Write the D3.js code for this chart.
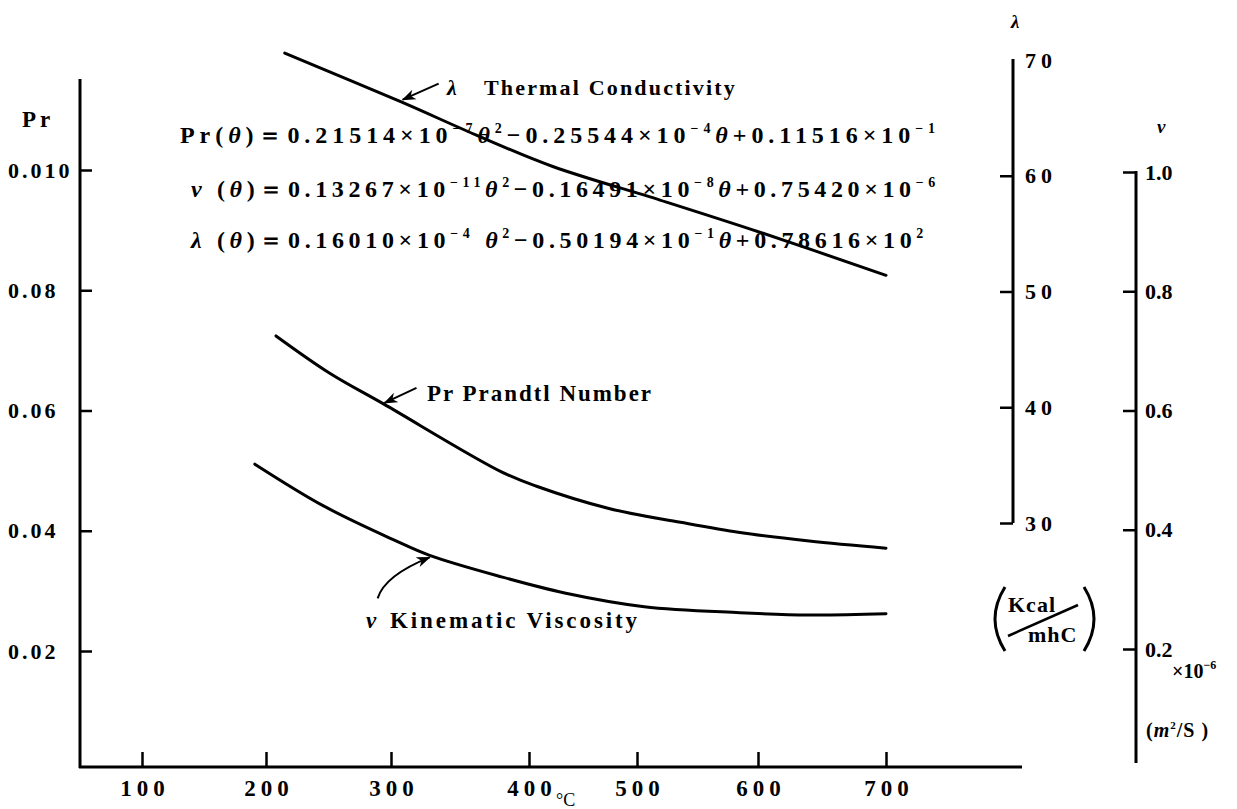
<!DOCTYPE html>
<html><head><meta charset="utf-8">
<script src="https://cdn.jsdelivr.net/npm/d3@7"></script>
<style>
html,body{margin:0;padding:0;background:#fff;}
svg{display:block;}
</style></head><body>
<svg id="chart" width="1237" height="809"></svg>
<script>
// ---------- data ----------
const tempTicks = [100, 200, 300, 400, 500, 600, 700];
const tempTickLabels = ["100", "200", "300", "400", "500", "600", "700"];
const prTicks = [0.10, 0.08, 0.06, 0.04, 0.02];
const prTickLabels = ["0.010", "0.08", "0.06", "0.04", "0.02"];
const lambdaTicks = [70, 60, 50, 40, 30];
const lambdaTickLabels = ["70", "60", "50", "40", "30"];
const nuTicks = [1.0, 0.8, 0.6, 0.4, 0.2];
const nuTickLabels = ["1.0", "0.8", "0.6", "0.4", "0.2"];

// Pr  Prandtl number (left axis)
const prTemp   = [208, 251, 294, 380, 407, 474, 536, 585, 640, 700];
const prValues = [0.0724, 0.0662, 0.0611, 0.0498, 0.0474, 0.0437, 0.0414, 0.0397, 0.0383, 0.0371];
// nu  kinematic viscosity x10^-6 (right axis)
const nuTemp   = [191, 246, 302, 328, 380, 433, 506, 585, 640, 700];
const nuValues = [0.510, 0.440, 0.383, 0.357, 0.321, 0.294, 0.271, 0.261, 0.257, 0.259];
// lambda thermal conductivity (right axis)
const lamTemp   = [215, 307, 364, 422, 519, 602, 700];
const lamValues = [70.6, 66.4, 63.4, 60.8, 57.9, 55.1, 51.4];

// ---------- layout ----------
const FONT = '"Liberation Serif","Times New Roman",serif';
const X_TICK_PIX = [142, 266, 391, 529, 637, 758, 886]; // hand drawn, uneven spacing
const svg = d3.select("#chart");

const x = d3.scaleLinear().domain(tempTicks).range(X_TICK_PIX);
const yPr = d3.scaleLinear().domain([0.02, 0.10]).range([651, 170]);
const yLam = d3.scaleLinear().domain([30, 70]).range([523, 60]);
const yNu = d3.scaleLinear().domain([0.2, 1.0]).range([649, 172]);

function styleText(sel, size, ls) {
  sel.attr("font-family", FONT).attr("font-size", size).attr("font-weight", "bold")
     .attr("fill", "#000").attr("letter-spacing", ls || 0);
}
function fitWidth(sel, target) {
  sel.attr("letter-spacing", 0);
  const w = sel.node().getComputedTextLength();
  const n = sel.text().length;
  sel.attr("letter-spacing", (target - w) / n);
}

// bottom axis
const gx = svg.append("g").attr("transform", "translate(0,767)")
  .call(d3.axisBottom(x).tickValues(tempTicks).tickSize(-15).tickPadding(13)
        .tickFormat((d, i) => tempTickLabels[i]));
gx.select(".domain").remove();
gx.selectAll(".tick line").attr("stroke", "#000").attr("stroke-width", 2.5);
gx.selectAll(".tick text").call(styleText, 23, 5).attr("dx", 2.5);
svg.append("line").attr("x1", 79).attr("x2", 1022).attr("y1", 767).attr("y2", 767)
  .attr("stroke", "#000").attr("stroke-width", 3);
svg.append("text").attr("x", x(400) + 27).attr("y", 806).text("°C").call(styleText, 18, 0)
  .attr("font-weight", "normal");

// left Pr axis
const gy = svg.append("g").attr("transform", "translate(80,0)")
  .call(d3.axisLeft(yPr).tickValues(prTicks).tickSize(-12)
        .tickFormat((d, i) => prTickLabels[i]));
gy.select(".domain").remove();
gy.selectAll(".tick line").attr("stroke", "#000").attr("stroke-width", 2.5);
gy.selectAll(".tick text").call(styleText, 22, 3).attr("x", -72).attr("text-anchor", "start");
svg.append("line").attr("x1", 80).attr("x2", 80).attr("y1", 79).attr("y2", 768)
  .attr("stroke", "#000").attr("stroke-width", 3);
svg.append("text").attr("x", 22).attr("y", 127).text("Pr").call(styleText, 23, 4);

// lambda axis
const gl = svg.append("g").attr("transform", "translate(1013,0)")
  .call(d3.axisRight(yLam).tickValues(lambdaTicks).tickSize(-13).tickPadding(12)
        .tickFormat((d, i) => lambdaTickLabels[i]));
gl.select(".domain").remove();
gl.selectAll(".tick line").attr("stroke", "#000").attr("stroke-width", 2.5);
gl.selectAll(".tick").filter(d => d === 70).select("line").remove();
gl.selectAll(".tick text").call(styleText, 22, 5);
svg.append("line").attr("x1", 1013).attr("x2", 1013).attr("y1", yLam(70) - 1).attr("y2", yLam(30))
  .attr("stroke", "#000").attr("stroke-width", 3);
svg.append("text").attr("x", 1011).attr("y", 28).text("λ").call(styleText, 19, 0)
  .attr("font-style", "italic");

// nu axis
const gn = svg.append("g").attr("transform", "translate(1136,0)")
  .call(d3.axisRight(yNu).tickValues(nuTicks).tickSize(-13).tickPadding(9)
        .tickFormat((d, i) => nuTickLabels[i]));
gn.select(".domain").remove();
gn.selectAll(".tick line").attr("stroke", "#000").attr("stroke-width", 2.5);
gn.selectAll(".tick text").call(styleText, 22, 0);
svg.append("line").attr("x1", 1136).attr("x2", 1136).attr("y1", yNu(1.0) - 1).attr("y2", 763)
  .attr("stroke", "#000").attr("stroke-width", 3);
svg.append("text").attr("x", 1157).attr("y", 133).text("ν").call(styleText, 19, 0)
  .attr("font-style", "italic");
const xm = svg.append("text").attr("x", 1172).attr("y", 678).call(styleText, 20, 0);
xm.append("tspan").text("×10");
xm.append("tspan").text("−6").attr("font-size", 12).attr("dy", -9);
const ms = svg.append("text").attr("x", 1146).attr("y", 737).call(styleText, 20, 1);
ms.append("tspan").text("(");
ms.append("tspan").text("m").attr("font-style", "italic");
ms.append("tspan").text("2").attr("font-size", 11).attr("dy", -8);
ms.append("tspan").text("/S )").attr("dy", 8);

// (Kcal / mhC) unit
svg.append("path").attr("d", "M1005,587 Q985,619 1005,651").attr("fill", "none")
  .attr("stroke", "#000").attr("stroke-width", 3);
svg.append("path").attr("d", "M1084,587 Q1104,619 1084,651").attr("fill", "none")
  .attr("stroke", "#000").attr("stroke-width", 3);
svg.append("text").attr("x", 1008).attr("y", 612).text("Kcal").call(styleText, 22, 1);
svg.append("line").attr("x1", 1008).attr("y1", 636).attr("x2", 1078).attr("y2", 605)
  .attr("stroke", "#000").attr("stroke-width", 2.5);
svg.append("text").attr("x", 1028).attr("y", 642).text("mhC").call(styleText, 22, 1);

// ---------- curves ----------
const line = d3.line().curve(d3.curveCatmullRom.alpha(0.5));
function drawCurve(temps, vals, yScale) {
  svg.append("path")
    .attr("d", line(temps.map((t, i) => [x(t), yScale(vals[i])])))
    .attr("fill", "none").attr("stroke", "#000").attr("stroke-width", 3)
    .attr("stroke-linecap", "round");
}
drawCurve(lamTemp, lamValues, yLam);
drawCurve(prTemp, prValues, yPr);
drawCurve(nuTemp, nuValues, yNu);

// ---------- arrows & labels ----------
const defs = svg.append("defs");
defs.append("marker").attr("id", "arr").attr("viewBox", "0 0 12 10")
  .attr("refX", 11).attr("refY", 5).attr("markerWidth", 14).attr("markerHeight", 12)
  .attr("markerUnits", "userSpaceOnUse").attr("orient", "auto")
  .append("path").attr("d", "M0,0.5 L12,5 L0,9.5 L3.5,5 Z").attr("fill", "#000");

function arrow(px, py, dx, dy, cx, cy) {
  const d = (cx === undefined)
    ? `M${px + dx},${py + dy} L${px},${py}`
    : `M${px + dx},${py + dy} Q${px + cx},${py + cy} ${px},${py}`;
  svg.append("path").attr("d", d).attr("fill", "none").attr("stroke", "#000")
    .attr("stroke-width", 2).attr("marker-end", "url(#arr)");
}
arrow(x(307) + 2, yLam(66.4) - 2, 36, -16);
arrow(x(294) + 1, yPr(0.0611) - 1, 32, -15);
arrow(x(328), yNu(0.357) + 2, -52, 41, -45, 18);

const tl = svg.append("text").attr("x", 447).attr("y", 95).call(styleText, 22, 0);
tl.append("tspan").text("λ").attr("font-style", "italic");
tl.append("tspan").text("Thermal Conductivity").attr("x", 484);
fitWidth(tl.select("tspan:nth-child(2)"), 253);

const tp = svg.append("text").attr("x", 427).attr("y", 401).text("Pr Prandtl Number").call(styleText, 23, 0);
fitWidth(tp, 226);

const tn = svg.append("text").attr("x", 366).attr("y", 628).call(styleText, 23, 0);
tn.append("tspan").text("ν").attr("font-style", "italic");
tn.append("tspan").text("Kinematic Viscosity").attr("x", 390);
fitWidth(tn.select("tspan:nth-child(2)"), 250);

// ---------- equations ----------
const eqs = [
  {x: 180, y: 143, w: 760, parts: [["Pr(", 0], ["θ", "i"], [")＝0.21514×10", 0], ["−7", "s"], ["θ", "i"], ["2", "s"],
     ["−0.25544×10", 0], ["−4", "s"], ["θ", "i"], ["+0.11516×10", 0], ["−1", "s"]]},
  {x: 191, y: 197, w: 749, parts: [["ν", "i"], [" (", 0], ["θ", "i"], [")＝0.13267×10", 0], ["−11", "s"], ["θ", "i"], ["2", "s"],
     ["−0.16491×10", 0], ["−8", "s"], ["θ", "i"], ["+0.75420×10", 0], ["−6", "s"]]},
  {x: 191, y: 248, w: 737, parts: [["λ", "i"], [" (", 0], ["θ", "i"], [")＝0.16010×10", 0], ["−4", "s"], [" θ", "i"], ["2", "s"],
     ["−0.50194×10", 0], ["−1", "s"], ["θ", "i"], ["+0.78616×10", 0], ["2", "s"]]}
];
eqs.forEach(eq => {
  const t = svg.append("text").attr("x", eq.x).attr("y", eq.y).call(styleText, 24, 0);
  let up = false;
  eq.parts.forEach(([s, kind]) => {
    const ts = t.append("tspan").text(s);
    if (kind === "s") {
      ts.attr("font-size", 14);
      if (!up) { ts.attr("dy", -10); up = true; }
    } else {
      if (up) { ts.attr("dy", 10); up = false; }
      if (kind === "i") ts.attr("font-style", "italic");
    }
  });
  fitWidth(t, eq.w);
});
</script>
</body></html>
